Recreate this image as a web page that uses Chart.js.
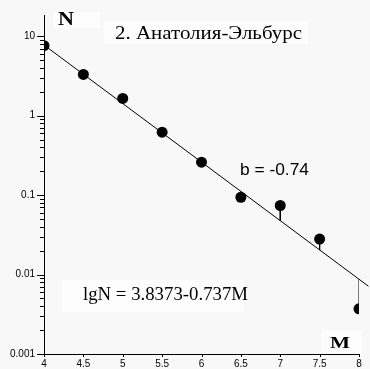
<!DOCTYPE html>
<html>
<head>
<meta charset="utf-8">
<script src="https://cdn.jsdelivr.net/npm/chart.js@4/dist/chart.umd.min.js"></script>
<style>
  html, body { margin: 0; padding: 0; background: #f8f8f8; }
  #wrap { width: 370px; height: 369px; position: relative; }
</style>
</head>
<body>
<div id="wrap"><canvas id="chart"></canvas></div>
<script>
// Data
const magnitudes = [4, 4.5, 5, 5.5, 6, 6.5, 7, 7.5, 8];
const counts = [7.6, 3.3, 1.65, 0.62, 0.26, 0.094, 0.074, 0.028, 0.0037];
const xTickLabels = ["4", "4.5", "5", "5.5", "6", "6.5", "7", "7.5", "8"];
const yTickLabels = ["0.001", "0.01", "0.1", "1", "10"];

// Regression shown on the chart: lgN = 3.8373 - 0.737M
const fitA = 3.8373;
const fitB = -0.737;
const fitRange = [4, 8.12];

const titleText = "2. Анатолия-Эльбурс";
const slopeText = "b = -0.74";
const eqText = "lgN = 3.8373-0.737M";

const fitAt = m => Math.pow(10, fitA + fitB * m);

const fitLine = fitRange.map(m => ({ x: m, y: fitAt(m) }));
const residuals = [];
magnitudes.forEach((m, i) => {
  residuals.push({ x: m, y: counts[i] }, { x: m, y: fitAt(m) }, { x: m, y: null });
});
const points = magnitudes.map((m, i) => ({ x: m, y: counts[i] }));

// draw text stretched to a given width
function fitText(c, text, x, y, w, font) {
  c.save();
  c.font = font;
  const mw = c.measureText(text).width;
  c.translate(x, y);
  c.scale(w / mw, 1);
  c.fillText(text, 0, 0);
  c.restore();
}

/* ===============================
   Background, ticks, text
=============================== */
const decor = {
  id: "decor",
  beforeDraw(chart) {
    const c = chart.ctx;
    c.save();
    c.fillStyle = "#f8f8f8";
    c.fillRect(0, 0, chart.width, chart.height);
    c.fillStyle = "#fdfdfd";
    // faint boxes behind labels
    c.fillRect(53, 12, 47, 16);
    c.fillRect(104, 21, 204, 23);
    c.fillRect(62, 280, 182, 32);
    c.fillRect(322, 330, 40, 24);
    c.restore();
  },
  afterDraw(chart) {
    const c = chart.ctx;
    const y = chart.scales.y;
    const x = chart.scales.x;
    c.save();
    c.strokeStyle = "#000";
    c.lineWidth = 1;
    // log ticks on the y axis (major longer than minor)
    for (let d = -3; d <= 1; d++) {
      for (let s = 1; s <= 9; s++) {
        const v = s * Math.pow(10, d);
        if (v > y.max) continue;
        const py = Math.round(y.getPixelForValue(v)) + 0.5;
        const len = s === 1 ? 7 : 4;
        c.beginPath();
        c.moveTo(y.right - len, py);
        c.lineTo(y.right, py);
        c.stroke();
      }
    }
    // x ticks
    xTickLabels.forEach(t => {
      const px = Math.round(x.getPixelForValue(parseFloat(t))) + 0.5;
      c.beginPath();
      c.moveTo(px, x.top);
      c.lineTo(px, x.top + 3);
      c.stroke();
    });

    c.fillStyle = "#000";
    c.textBaseline = "alphabetic";
    const serif = "'Liberation Serif', 'DejaVu Serif', serif";
    fitText(c, "N", 58, 25, 16, "bold 19px " + serif);
    fitText(c, "M", 330, 348, 20, "bold 17px " + serif);
    fitText(c, titleText, 115, 39, 187, "18px " + serif);
    fitText(c, eqText, 83, 300, 165, "18px " + serif);
    fitText(c, slopeText, 240, 175, 69, "17px 'Liberation Sans', Arial, sans-serif");
    c.restore();
  }
};

const ctx = document.getElementById("chart").getContext("2d");
new Chart(ctx, {
  type: "scatter",
  data: {
    datasets: [
      {
        type: "line",
        data: fitLine,
        borderColor: "#000",
        borderWidth: 1,
        pointRadius: 0,
        clip: false,
        order: 3
      },
      {
        type: "line",
        data: residuals,
        borderColor: "#000",
        borderWidth: 1,
        pointRadius: 0,
        spanGaps: false,
        order: 2
      },
      {
        data: points,
        backgroundColor: "#000",
        borderColor: "#000",
        borderWidth: 0,
        pointRadius: 5.5,
        pointHoverRadius: 5.5,
        order: 1
      }
    ]
  },
  options: {
    responsive: true,
    maintainAspectRatio: false,
    animation: false,
    events: [],
    layout: { padding: { top: 13, right: 11, left: 0, bottom: 0 } },
    plugins: { legend: { display: false }, tooltip: { enabled: false } },
    scales: {
      x: {
        type: "linear",
        min: 4,
        max: 8,
        afterFit: s => { s.height = 14; },
        afterBuildTicks: s => { s.ticks = xTickLabels.map(t => ({ value: parseFloat(t) })); },
        border: { display: true, color: "#000", width: 1 },
        grid: { display: false, drawTicks: false },
        ticks: {
          color: "#000",
          padding: 4,
          maxRotation: 0,
          autoSkip: false,
          font: { family: "'Liberation Sans', Arial, sans-serif", size: 10 },
          callback: v => String(v)
        }
      },
      y: {
        type: "logarithmic",
        min: 0.001,
        max: 18.5,
        afterFit: s => { s.width = 44; },
        afterBuildTicks: s => { s.ticks = yTickLabels.map(t => ({ value: parseFloat(t) })); },
        border: { display: true, color: "#000", width: 1 },
        grid: { display: false, drawTicks: false },
        ticks: {
          color: "#000",
          padding: 9,
          autoSkip: false,
          font: { family: "'Liberation Sans', Arial, sans-serif", size: 10 },
          callback: v => yTickLabels.find(t => parseFloat(t) === v) || ""
        }
      }
    }
  },
  plugins: [decor]
});
</script>
</body>
</html>
